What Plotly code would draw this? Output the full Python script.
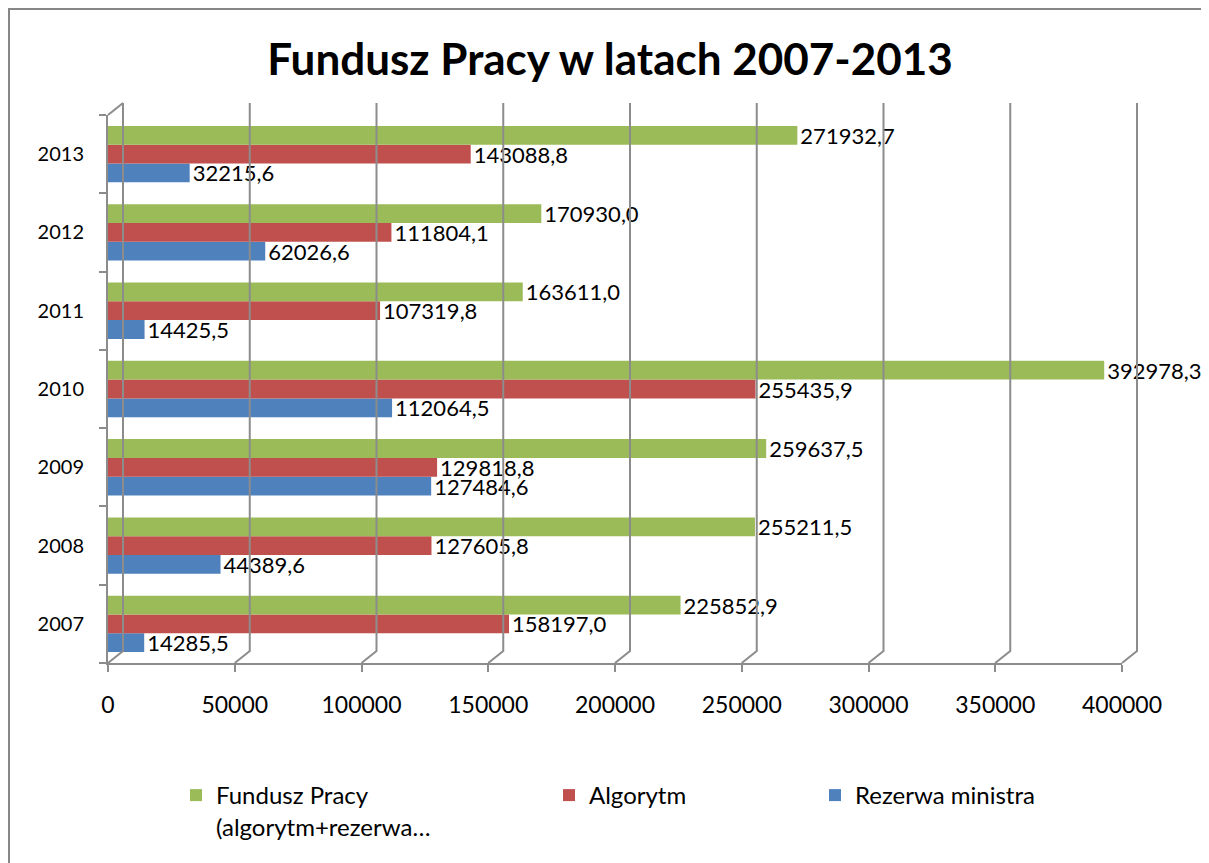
import plotly.graph_objects as go

years = ["2007", "2008", "2009", "2010", "2011", "2012", "2013"]
rezerwa = [14285.5, 44389.6, 127484.6, 112064.5, 14425.5, 62026.6, 32215.6]
algorytm = [158197.0, 127605.8, 129818.8, 255435.9, 107319.8, 111804.1, 143088.8]
fundusz = [225852.9, 255211.5, 259637.5, 392978.3, 163611.0, 170930.0, 271932.7]
x_ticks = [0, 50000, 100000, 150000, 200000, 250000, 300000, 350000, 400000]

names = ["Rezerwa ministra", "Algorytm", "Fundusz Pracy<br>(algorytm+rezerwa…"]
colors = ["#4F81BD", "#C0504D", "#9BBB59"]
legends = ["legend3", "legend2", "legend"]

FONT = "Lato"
XMAX = 400000
# page body has an 8px margin; figure pixel = screen pixel - 8
W, H = 1201, 855
L, R, T, B = 100, 87, 107, 200
pw, ph = W - L - R, H - T - B
grid_col = "#8c8c8c"


def fmt(v):
    return f"{v:.1f}".replace(".", ",")


fig = go.Figure()
for vals, name, col, lg in zip([rezerwa, algorytm, fundusz], names, colors, legends):
    fig.add_trace(go.Bar(
        y=years, x=vals, orientation="h", name=name,
        marker=dict(color=col, line=dict(width=0)),
        text=[fmt(v) for v in vals], textposition="outside",
        textfont=dict(family=FONT, size=22, color="black"),
        constraintext="none", cliponaxis=False, legend=lg,
    ))

# 3D-like back wall gridlines
dx, dy = 15 / pw, 12 / ph
shapes = []
for v in x_ticks:
    fx = v / XMAX
    path = f"M{fx + dx},{1 + dy} L{fx + dx},{dy} L{fx},0"
    shapes.append(dict(type="path", xref="paper", yref="paper", path=path,
                       line=dict(color=grid_col, width=2)))
shapes.append(dict(type="line", xref="paper", yref="paper", x0=0, y0=1, x1=dx, y1=1 + dy,
                   line=dict(color=grid_col, width=2)))
# chart border (left and top edges visible)
shapes.append(dict(type="rect", xref="paper", yref="paper",
                   x0=(1 - L) / pw, y0=1 + (T - 1) / ph,
                   x1=(W + 20 - L) / pw, y1=-(B + 20) / ph,
                   line=dict(color="#878787", width=2), layer="below"))

leg_y = -(765 - (H - B)) / ph
leg_common = dict(y=leg_y, xanchor="left", yanchor="top", valign="top",
                  font=dict(family=FONT, size=24, color="black"), bgcolor="rgba(0,0,0,0)")

fig.update_layout(
    width=W, height=H,
    margin=dict(l=L, r=R, t=T, b=B, autoexpand=False),
    paper_bgcolor="white", plot_bgcolor="white",
    font=dict(family=FONT, color="black"),
    title=dict(text="<b>Fundusz Pracy w latach 2007-2013</b>", x=602 / W, xanchor="center",
               xref="container", y=1 - 52 / H, yanchor="middle", yref="container",
               font=dict(family=FONT, size=44, color="black")),
    barmode="group", bargap=0.28, bargroupgap=0,
    xaxis=dict(range=[0, XMAX], tickvals=x_ticks, ticktext=[str(v) for v in x_ticks],
               showgrid=False, zeroline=False, showline=True, linecolor=grid_col, linewidth=2,
               ticks="outside", ticklen=7, tickwidth=2, tickcolor=grid_col, automargin=False,
               ticklabelstandoff=13, tickfont=dict(family=FONT, size=23, color="black")),
    yaxis=dict(type="category", categoryorder="array", categoryarray=years,
               showgrid=False, zeroline=False, showline=True, linecolor=grid_col, linewidth=2,
               ticks="outside", ticklen=7, tickwidth=2, tickcolor=grid_col, tickson="boundaries",
               automargin=False,
               ticklabelstandoff=18, tickfont=dict(family=FONT, size=20, color="black")),
    shapes=shapes,
    showlegend=True,
    legend=dict(x=(168 - L) / pw, **leg_common),
    legend2=dict(x=(541 - L) / pw, **leg_common),
    legend3=dict(x=(807 - L) / pw, **leg_common),
)

fig.write_html("out.html")
